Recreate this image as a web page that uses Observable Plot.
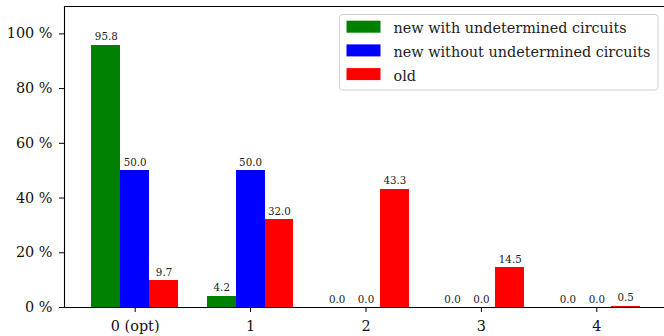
<!DOCTYPE html>
<html><head><meta charset="utf-8">
<script src="https://cdn.jsdelivr.net/npm/d3@7"></script>
<script src="https://cdn.jsdelivr.net/npm/@observablehq/plot@0.6"></script>
<style>
body{margin:0;background:#fff;overflow:hidden}
#chart{width:664px;height:336px;overflow:hidden}
#chart svg text{font-family:"DejaVu Serif", serif !important;}
</style>
</head><body><div id="chart"></div>
<script>
const categories = ["0 (opt)", "1", "2", "3", "4"];
const seriesNames = ["new with undetermined circuits", "new without undetermined circuits", "old"];
const seriesColors = ["#008000", "#0000ff", "#ff0000"];
const newWith = [95.8, 4.2, 0.0, 0.0, 0.0];
const newWithout = [50.0, 50.0, 0.0, 0.0, 0.0];
const oldValues = [9.7, 32.0, 43.3, 14.5, 0.5];
const yTicks = [0, 20, 40, 60, 80, 100];

const seriesValues = [newWith, newWithout, oldValues];
const barW = 0.25;
const rows = [];
seriesValues.forEach((vals, j) => {
  vals.forEach((v, i) => {
    const c = i + (j - 1) * barW;
    rows.push({series: seriesNames[j], i, c, x1: c - barW / 2, x2: c + barW / 2, value: v});
  });
});
const xMin = -0.375 - 0.05 * 4.75, xMax = 4.375 + 0.05 * 4.75;
const FONT = "'DejaVu Serif', serif";

const svg = Plot.plot({
  width: 664, height: 336,
  marginLeft: 64, marginRight: -3, marginTop: 6, marginBottom: 29,
  style: `font-family: ${FONT}; font-size: 14.4px; color: black; background: white;`,
  x: {type: "linear", domain: [xMin, xMax]},
  y: {domain: [0, 110]},
  color: {domain: seriesNames, range: seriesColors},
  marks: [
    Plot.rect(rows, {x1: "x1", x2: "x2", y1: 0, y2: "value", fill: "series", shapeRendering: "crispEdges"}),
    Plot.text(rows, {x: "c", y: "value", text: d => d.value.toFixed(1), lineAnchor: "bottom", dy: -5, fontSize: 10.3, fill: "#222"}),
    Plot.ruleY([0, 110], {stroke: "black", strokeWidth: 1.1}),
    Plot.ruleX([xMin], {stroke: "black", strokeWidth: 1.1}),
    Plot.axisY({ticks: yTicks, tickFormat: d => d + " %", tickSize: 5, tickPadding: 7, label: null, fontSize: 14.4, stroke: "black", fill: "#111"}),
    Plot.axisX({ticks: categories.map((_, i) => i), tickFormat: i => categories[i], tickSize: 5, tickPadding: 8, label: null, fontSize: 14.4, stroke: "black", fill: "#111"})
  ]
});

// legend
const lg = d3.select(svg).append("g").attr("transform", "translate(339.5,14.5)");
lg.append("rect").attr("width", 318.5).attr("height", 75.5).attr("rx", 3)
  .attr("fill", "rgba(255,255,255,0.8)").attr("stroke", "#d0d0d0").attr("stroke-width", 1);
seriesNames.forEach((name, j) => {
  const cy = 12.2 + j * 23.7;
  lg.append("rect").attr("x", 7).attr("y", cy - 6).attr("width", 34).attr("height", 12).attr("fill", seriesColors[j]);
  lg.append("text").attr("x", 54).attr("y", cy + 6.6).attr("text-anchor", "start")
    .style("font-family", FONT).style("font-size", "14.4px").attr("fill", "#222").text(name);
});

document.getElementById("chart").appendChild(svg);
</script>
</body></html>
